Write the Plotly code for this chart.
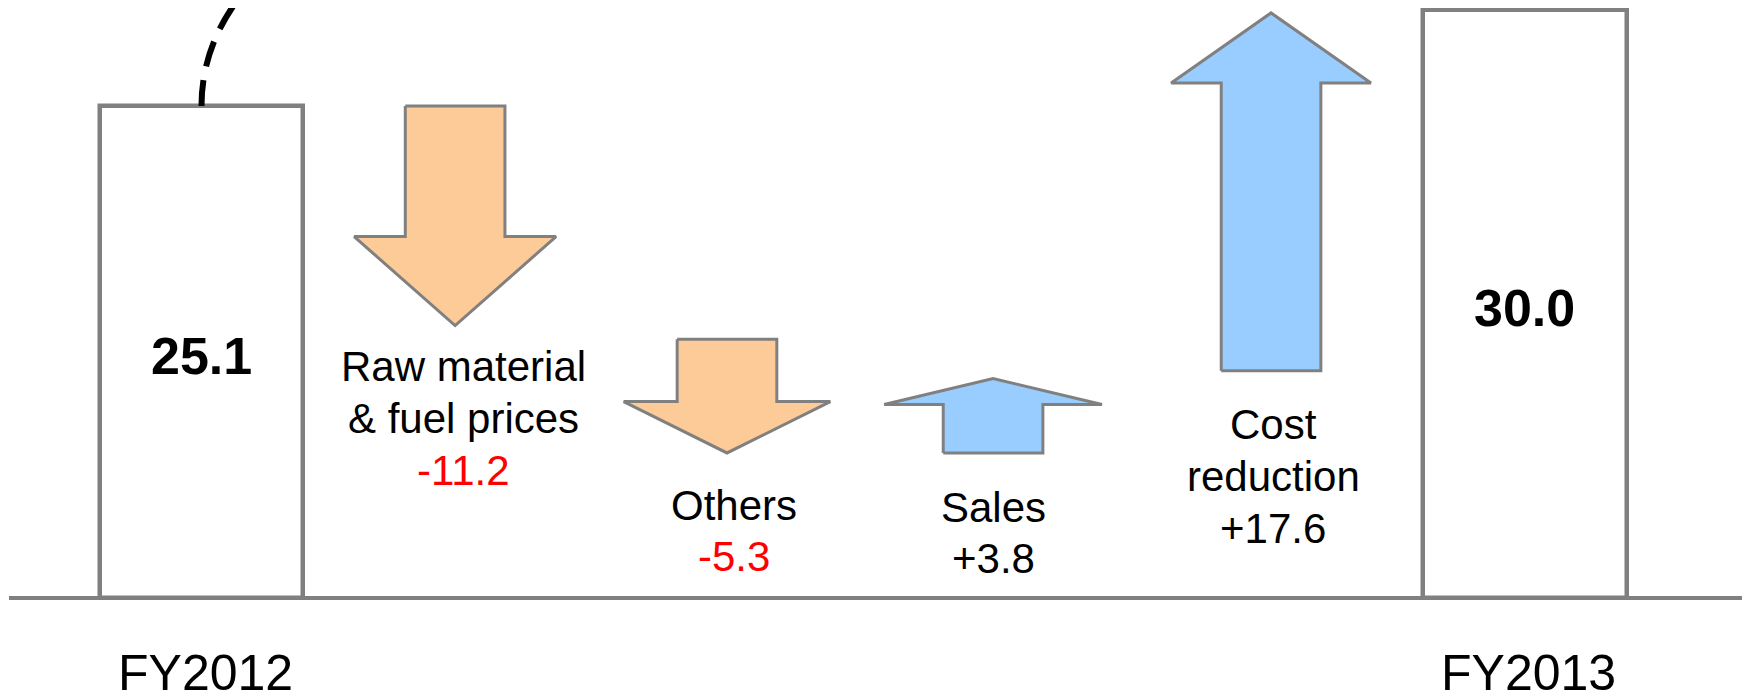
import plotly.graph_objects as go

# ---------------- data ----------------
totals_labels = ["FY2012", "FY2013"]
totals = [25.1, 30.0]

delta_names = [["Raw material", "& fuel prices"], ["Others"], ["Sales"], ["Cost", "reduction"]]
deltas = [-11.2, -5.3, 3.8, 17.6]
arrow_from = [25.1, 13.2, 7.4, 11.6]
arrow_to = [13.9, 7.4, 11.2, 29.85]

# ---------------- layout / style constants ----------------
PAGE_OFF = 8          # default body margin of the html page
W, H = 1750 - PAGE_OFF, 695 - PAGE_OFF
PX_X = 265.0          # px per x unit
PX_Y = 19.6           # px per y unit
X0_PX = 201.5 - PAGE_OFF    # figure pixel of x = 0
BASE_PX = 598.0 - PAGE_OFF  # figure pixel of y = 0

total_x = [0.0, 4.994]
delta_x = [0.957, 1.983, 2.987, 4.036]
bar_width = 0.768

shaft_half = 0.188
head_half = [0.381, 0.39, 0.411, 0.377]
head_len = [4.54, 2.62, 1.33, 3.57]

label_y0 = [11.79, 4.74, 4.64, 8.83]   # centre of first label line
line_step = 2.63
label_xshift = [8, 7, 0, 2]

GRAY = "#808080"
ORANGE = "#FDCB98"
BLUE = "#99CCFF"
FONT = "Liberation Sans, Arial, sans-serif"

x_range = [-X0_PX / PX_X, (W - X0_PX) / PX_X]
y_range = [-(H - BASE_PX) / PX_Y, BASE_PX / PX_Y]

fig = go.Figure()

# total bars
fig.add_trace(go.Bar(
    x=total_x, y=totals, base=0, width=bar_width,
    marker=dict(color="white", line=dict(color=GRAY, width=4.5)),
    cliponaxis=False, hoverinfo="skip", showlegend=False,
))

# arrows
for i, d in enumerate(deltas):
    c = delta_x[i]
    y0, y1 = arrow_from[i], arrow_to[i]
    sgn = 1 if y1 > y0 else -1
    hb = y1 - sgn * head_len[i]
    xs = [c - shaft_half, c + shaft_half, c + shaft_half, c + head_half[i], c,
          c - head_half[i], c - shaft_half, c - shaft_half]
    ys = [y0, y0, hb, hb, y1, hb, hb, y0]
    fig.add_trace(go.Scatter(
        x=xs, y=ys, mode="lines", fill="toself",
        fillcolor=BLUE if d > 0 else ORANGE,
        line=dict(color=GRAY, width=3),
        cliponaxis=False, hoverinfo="skip", showlegend=False,
    ))

# baseline
fig.add_shape(type="line", xref="x", yref="y",
              x0=x_range[0] + 1 / PX_X, x1=x_range[1], y0=0, y1=0,
              line=dict(color=GRAY, width=4), layer="below")

# dashed connector from FY2012 to FY2013 (goes above visible area)
ctrl = 45.4
xa, ya = total_x[0], totals[0]
xb, yb = total_x[1], totals[1]
path = f"M {xa},{ya} C {xa},{ctrl} {xb},{ctrl} {xb},{yb + 0.5}"
fig.add_shape(type="path", xref="x", yref="y", path=path,
              line=dict(color="black", width=6, dash="26px,14px"))

annotations = []
# total value labels & category labels
for xv, v, name in zip(total_x, totals, totals_labels):
    annotations.append(dict(
        x=xv, y=v / 2, text=f"{v:.1f}", showarrow=False, xanchor="center", yanchor="middle",
        yshift=-4, font=dict(family=FONT, size=52, color="black", weight="bold")))
    annotations.append(dict(
        x=xv, y=-(672.5 - 598.0) / PX_Y, text=name, showarrow=False,
        xanchor="center", yanchor="middle", xshift=4,
        font=dict(family=FONT, size=50, color="black")))

# delta labels
for i, d in enumerate(deltas):
    lines = delta_names[i]
    for k, ln in enumerate(lines):
        annotations.append(dict(
            x=delta_x[i], y=label_y0[i] - k * line_step, text=ln, showarrow=False,
            xanchor="center", yanchor="middle", xshift=label_xshift[i],
            font=dict(family=FONT, size=42, color="black")))
    annotations.append(dict(
        x=delta_x[i], y=label_y0[i] - len(lines) * line_step, text=f"{d:+.1f}",
        showarrow=False, xanchor="center", yanchor="middle", xshift=label_xshift[i],
        font=dict(family=FONT, size=42, color="#FF0000" if d < 0 else "black")))

fig.update_layout(
    width=W, height=H,
    margin=dict(l=0, r=0, t=0, b=0),
    paper_bgcolor="white", plot_bgcolor="white",
    xaxis=dict(range=x_range, visible=False, fixedrange=True),
    yaxis=dict(range=y_range, visible=False, fixedrange=True),
    annotations=annotations,
    showlegend=False,
    bargap=0,
)

fig.write_html("out.html")
